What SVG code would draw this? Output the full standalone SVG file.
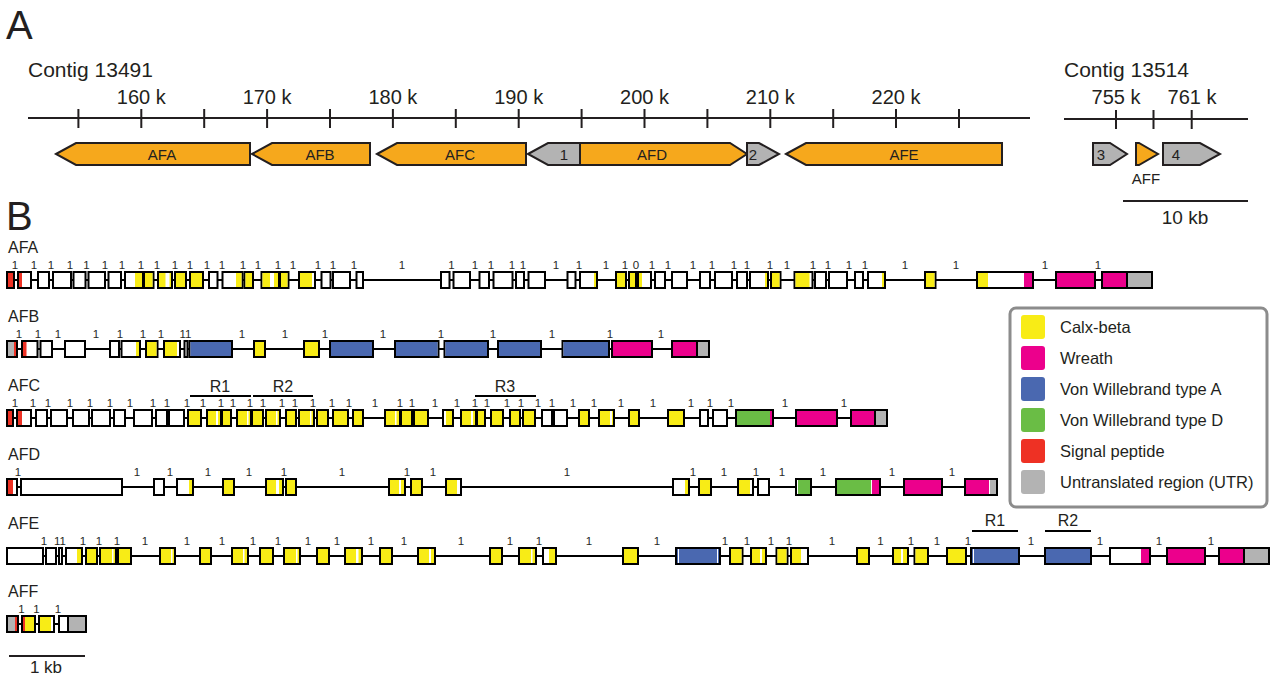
<svg xmlns="http://www.w3.org/2000/svg" width="1272" height="677" viewBox="0 0 1272 677">
<style>
  text{font-family:"Liberation Sans",Arial,sans-serif;fill:#231f20}
  .big{font-size:40px}
  .contig{font-size:21px}
  .tick{font-size:20px;text-anchor:middle}
  .glab{font-size:15px;text-anchor:middle}
  .name{font-size:16px}
  .rlab{font-size:16px;text-anchor:middle}
  .ph{font-size:11.5px;text-anchor:middle}
  .phases{opacity:0.98}
  .leg{font-size:16.5px}
  .axis{stroke:#231f20;stroke-width:2;fill:none}
  .intron{stroke:#000;stroke-width:2}
  .ex{fill:#fff;stroke:#000;stroke-width:2}
  .arr{stroke:#231f20;stroke-width:2;stroke-linejoin:miter}
  .or{fill:#f6a81c}
  .gr{fill:#b3b3b3}
  .y{fill:#f8ec16}
  .m{fill:#ec008c}
  .b{fill:#4a68b0}
  .g{fill:#6abd45}
  .r{fill:#ee3124}
  .u{fill:#b3b3b3}
  .w{fill:#fff}
</style>

<!-- Panel A: genomic overview -->
<g id="panelA">
  <text class="big" x="6" y="39">A</text>
  <text class="contig" x="28" y="77">Contig 13491</text>
  <text class="contig" x="1064" y="77">Contig 13514</text>

  <g id="axis-13491">
    <line class="axis" x1="28" y1="118" x2="1030" y2="118"/>
    <path class="axis" d="M78.4 109V128M141.3 109V128M204.2 109V128M267.1 109V128M330 109V128M392.9 109V128M455.8 109V128M518.7 109V128M581.6 109V128M644.5 109V128M707.4 109V128M770.3 109V128M833.2 109V128M896 109V128M959 109V128"/>
    <text class="tick" x="141.3" y="104">160 k</text>
    <text class="tick" x="267.1" y="104">170 k</text>
    <text class="tick" x="392.9" y="104">180 k</text>
    <text class="tick" x="518.7" y="104">190 k</text>
    <text class="tick" x="644.5" y="104">200 k</text>
    <text class="tick" x="770.3" y="104">210 k</text>
    <text class="tick" x="896" y="104">220 k</text>
  </g>

  <g id="axis-13514">
    <line class="axis" x1="1064" y1="119" x2="1248" y2="119"/>
    <path class="axis" d="M1116 110V129M1153.5 110V129M1191.7 110V129"/>
    <text class="tick" x="1116" y="104">755 k</text>
    <text class="tick" x="1192" y="104">761 k</text>
  </g>

  <g id="loci">
    <g id="locus-AFA"><polygon class="arr or" points="56,154 76,143 250,143 250,165 76,165"/><text class="glab" x="162" y="160">AFA</text></g>
    <g id="locus-AFB"><polygon class="arr or" points="252,154 272,143 370,143 370,165 272,165"/><text class="glab" x="320" y="160">AFB</text></g>
    <g id="locus-AFC"><polygon class="arr or" points="377,154 397,143 526,143 526,165 397,165"/><text class="glab" x="460" y="160">AFC</text></g>
    <g id="locus-1"><polygon class="arr gr" points="528,154 548,143 580,143 580,165 548,165"/><text class="glab" x="564" y="160">1</text></g>
    <g id="locus-AFD"><polygon class="arr or" points="580,143 730,143 747,154 730,165 580,165"/><text class="glab" x="652" y="160">AFD</text></g>
    <g id="locus-2"><polygon class="arr gr" points="747,143 759,143 779,154 759,165 747,165"/><text class="glab" x="753" y="160">2</text></g>
    <g id="locus-AFE"><polygon class="arr or" points="786,154 806,143 1002,143 1002,165 806,165"/><text class="glab" x="904" y="160">AFE</text></g>
    <g id="locus-3"><polygon class="arr gr" points="1093,143 1110,143 1127,154 1110,165 1093,165"/><text class="glab" x="1101" y="160">3</text></g>
    <g id="locus-AFF"><polygon class="arr or" points="1136,143 1139,143 1158,154 1139,165 1136,165"/><text class="glab" x="1146" y="184">AFF</text></g>
    <g id="locus-4"><polygon class="arr gr" points="1163,143 1200,143 1220,154 1200,165 1163,165"/><text class="glab" x="1176" y="160">4</text></g>
  </g>

  <g id="scale-10kb">
    <line class="axis" x1="1123" y1="201" x2="1248" y2="201"/>
    <text class="tick" x="1185" y="224" style="font-size:19px">10 kb</text>
  </g>
</g>

<!-- Panel B: exon structures -->
<text class="big" x="6" y="230">B</text>

<g id="gene-AFA" transform="translate(0,280)">
  <text class="name" x="8" y="-27">AFA</text>
  <line class="intron" x1="7" y1="0" x2="1152" y2="0"/>
  <rect class="ex" x="7" y="-8" width="7" height="16"/><rect class="r" x="8" y="-7" width="5" height="14"/>
  <rect class="ex" x="18" y="-8" width="13" height="16"/><rect class="r" x="19" y="-7" width="3" height="14"/>
  <rect class="ex" x="38" y="-8" width="11" height="16"/>
  <rect class="ex" x="53" y="-8" width="18" height="16"/>
  <rect class="ex" x="73.5" y="-8" width="12" height="16"/>
  <rect class="ex" x="88.5" y="-8" width="16.5" height="16"/>
  <rect class="ex" x="108.5" y="-8" width="12.5" height="16"/>
  <rect class="ex" x="125" y="-8" width="18" height="16"/><rect class="y" x="135" y="-7" width="7" height="14"/>
  <rect class="ex" x="144" y="-8" width="9.5" height="16"/><rect class="y" x="145" y="-7" width="7.5" height="14"/>
  <rect class="ex" x="158" y="-8" width="14" height="16"/><rect class="y" x="159" y="-7" width="12" height="14"/><rect class="w" x="165.5" y="-7" width="4" height="14"/>
  <rect class="ex" x="175" y="-8" width="11" height="16"/><rect class="y" x="176" y="-7" width="9" height="14"/>
  <rect class="ex" x="190" y="-8" width="13" height="16"/><rect class="y" x="191" y="-7" width="11" height="14"/>
  <rect class="ex" x="209" y="-8" width="8.5" height="16"/>
  <rect class="ex" x="222.5" y="-8" width="20" height="16"/><rect class="y" x="236" y="-7" width="5.5" height="14"/>
  <rect class="ex" x="244.5" y="-8" width="8.5" height="16"/><rect class="y" x="245.5" y="-7" width="6.5" height="14"/>
  <rect class="ex" x="261.5" y="-8" width="17.5" height="16"/><rect class="y" x="262.5" y="-7" width="15.5" height="14"/><rect class="w" x="270" y="-7" width="4" height="14"/>
  <rect class="ex" x="280" y="-8" width="8.5" height="16"/><rect class="y" x="281" y="-7" width="6.5" height="14"/>
  <rect class="ex" x="299" y="-8" width="16" height="16"/><rect class="y" x="300" y="-7" width="12" height="14"/>
  <rect class="ex" x="321.5" y="-8" width="9" height="16"/>
  <rect class="ex" x="333" y="-8" width="17" height="16"/>
  <rect class="ex" x="356.5" y="-8" width="6.5" height="16"/>
  <rect class="ex" x="441" y="-8" width="8.5" height="16"/>
  <rect class="ex" x="453.5" y="-8" width="16.5" height="16"/>
  <rect class="ex" x="479.5" y="-8" width="9.5" height="16"/>
  <rect class="ex" x="493.5" y="-8" width="19" height="16"/>
  <rect class="ex" x="516" y="-8" width="8" height="16"/>
  <rect class="ex" x="528.5" y="-8" width="16.5" height="16"/>
  <rect class="ex" x="567.5" y="-8" width="8" height="16"/>
  <rect class="ex" x="580" y="-8" width="17" height="16"/><rect class="y" x="594" y="-7" width="2" height="14"/>
  <rect class="ex" x="616" y="-8" width="10" height="16"/><rect class="y" x="617" y="-7" width="8" height="14"/>
  <rect class="ex" x="629" y="-8" width="7" height="16"/><rect class="y" x="630" y="-7" width="5" height="14"/>
  <rect class="ex" x="638" y="-8" width="13" height="16"/><rect class="y" x="639" y="-7" width="3" height="14"/>
  <rect class="ex" x="655" y="-8" width="10" height="16"/>
  <rect class="ex" x="672" y="-8" width="15" height="16"/>
  <rect class="ex" x="700" y="-8" width="10" height="16"/>
  <rect class="ex" x="715" y="-8" width="17" height="16"/>
  <rect class="ex" x="737" y="-8" width="10" height="16"/>
  <rect class="ex" x="750" y="-8" width="18" height="16"/><rect class="y" x="765" y="-7" width="2" height="14"/>
  <rect class="ex" x="771" y="-8" width="9.5" height="16"/><rect class="y" x="772" y="-7" width="7.5" height="14"/>
  <rect class="ex" x="794.5" y="-8" width="18" height="16"/><rect class="y" x="795.5" y="-7" width="14" height="14"/>
  <rect class="ex" x="815" y="-8" width="11" height="16"/>
  <rect class="ex" x="829" y="-8" width="18" height="16"/>
  <rect class="ex" x="855" y="-8" width="8" height="16"/>
  <rect class="ex" x="868" y="-8" width="17" height="16"/><rect class="y" x="882" y="-7" width="2" height="14"/>
  <rect class="ex" x="925" y="-8" width="10.5" height="16"/><rect class="y" x="926" y="-7" width="8.5" height="14"/>
  <rect class="ex" x="977" y="-8" width="56" height="16"/><rect class="y" x="978" y="-7" width="10" height="14"/><rect class="m" x="1024" y="-7" width="8" height="14"/>
  <rect class="ex" x="1056" y="-8" width="39" height="16"/><rect class="m" x="1057" y="-7" width="37" height="14"/>
  <rect class="ex" x="1102" y="-8" width="25" height="16"/><rect class="m" x="1103" y="-7" width="23" height="14"/>
  <rect class="ex" x="1127" y="-8" width="25" height="16"/><rect class="u" x="1128" y="-7" width="23" height="14"/>
  <g class="phases">
    <text class="ph" x="15" y="-11">1</text><text class="ph" x="34" y="-11">1</text><text class="ph" x="51" y="-11">1</text><text class="ph" x="70" y="-11">1</text><text class="ph" x="86.5" y="-11">1</text><text class="ph" x="105" y="-11">1</text><text class="ph" x="122" y="-11">1</text><text class="ph" x="141" y="-11">1</text><text class="ph" x="157" y="-11">1</text><text class="ph" x="175" y="-11">1</text><text class="ph" x="190" y="-11">1</text><text class="ph" x="207" y="-11">1</text><text class="ph" x="222" y="-11">1</text><text class="ph" x="243" y="-11">1</text><text class="ph" x="258" y="-11">1</text><text class="ph" x="278" y="-11">1</text><text class="ph" x="293" y="-11">1</text><text class="ph" x="318" y="-11">1</text><text class="ph" x="333" y="-11">1</text><text class="ph" x="354" y="-11">1</text><text class="ph" x="402" y="-11">1</text><text class="ph" x="451.5" y="-11">1</text><text class="ph" x="475" y="-11">1</text><text class="ph" x="491" y="-11">1</text><text class="ph" x="512" y="-11">1</text><text class="ph" x="523" y="-11">1</text><text class="ph" x="556" y="-11">1</text><text class="ph" x="579" y="-11">1</text><text class="ph" x="606" y="-11">1</text><text class="ph" x="625" y="-11">1</text><text class="ph" x="636" y="-11">0</text><text class="ph" x="652" y="-11">1</text><text class="ph" x="668" y="-11">1</text><text class="ph" x="693" y="-11">1</text><text class="ph" x="712" y="-11">1</text><text class="ph" x="734" y="-11">1</text><text class="ph" x="747" y="-11">1</text><text class="ph" x="770" y="-11">1</text><text class="ph" x="787" y="-11">1</text><text class="ph" x="813" y="-11">1</text><text class="ph" x="828" y="-11">1</text><text class="ph" x="849" y="-11">1</text><text class="ph" x="865" y="-11">1</text><text class="ph" x="905" y="-11">1</text><text class="ph" x="956" y="-11">1</text><text class="ph" x="1045" y="-11">1</text><text class="ph" x="1098" y="-11">1</text>
  </g>
</g>

<g id="gene-AFB" transform="translate(0,349)">
  <text class="name" x="8" y="-27">AFB</text>
  <line class="intron" x1="7" y1="0" x2="709" y2="0"/>
  <rect class="ex" x="7" y="-8" width="10" height="16"/><rect class="u" x="8" y="-7" width="6" height="14"/><rect class="r" x="14" y="-7" width="2" height="14"/>
  <rect class="ex" x="22" y="-8" width="15.5" height="16"/><rect class="r" x="23" y="-7" width="3.5" height="14"/>
  <rect class="ex" x="40.5" y="-8" width="11.5" height="16"/>
  <rect class="ex" x="65" y="-8" width="20" height="16"/>
  <rect class="ex" x="110" y="-8" width="9" height="16"/>
  <rect class="ex" x="121.5" y="-8" width="18.5" height="16"/><rect class="y" x="136" y="-7" width="3" height="14"/>
  <rect class="ex" x="146" y="-8" width="11.5" height="16"/><rect class="y" x="147" y="-7" width="9.5" height="14"/>
  <rect class="ex" x="164" y="-8" width="16" height="16"/><rect class="y" x="165" y="-7" width="12" height="14"/>
  <rect class="ex" x="184.5" y="-8" width="3" height="16"/>
  <rect class="ex" x="189.5" y="-8" width="42.5" height="16"/><rect class="b" x="190.5" y="-7" width="40.5" height="14"/>
  <rect class="ex" x="254" y="-8" width="11" height="16"/><rect class="y" x="255" y="-7" width="9" height="14"/>
  <rect class="ex" x="304" y="-8" width="15" height="16"/><rect class="y" x="305" y="-7" width="13" height="14"/>
  <rect class="ex" x="330" y="-8" width="43" height="16"/><rect class="b" x="331" y="-7" width="41" height="14"/>
  <rect class="ex" x="395" y="-8" width="43.5" height="16"/><rect class="b" x="396" y="-7" width="41.5" height="14"/>
  <rect class="ex" x="444.5" y="-8" width="43.5" height="16"/><rect class="b" x="445.5" y="-7" width="41.5" height="14"/>
  <rect class="ex" x="498" y="-8" width="43" height="16"/><rect class="b" x="499" y="-7" width="41" height="14"/>
  <rect class="ex" x="562.5" y="-8" width="46.5" height="16"/><rect class="b" x="563.5" y="-7" width="44.5" height="14"/>
  <rect class="ex" x="612" y="-8" width="40" height="16"/><rect class="m" x="613" y="-7" width="38" height="14"/>
  <rect class="ex" x="672" y="-8" width="25" height="16"/><rect class="m" x="673" y="-7" width="23" height="14"/>
  <rect class="ex" x="697" y="-8" width="12" height="16"/><rect class="u" x="698" y="-7" width="10" height="14"/>
  <g class="phases">
    <text class="ph" x="19" y="-11">1</text><text class="ph" x="38" y="-11">1</text><text class="ph" x="58" y="-11">1</text><text class="ph" x="96" y="-11">1</text><text class="ph" x="120" y="-11">1</text><text class="ph" x="143" y="-11">1</text><text class="ph" x="161" y="-11">1</text><text class="ph" x="185.5" y="-11">11</text><text class="ph" x="242" y="-11">1</text><text class="ph" x="285" y="-11">1</text><text class="ph" x="325" y="-11">1</text><text class="ph" x="383" y="-11">1</text><text class="ph" x="441" y="-11">1</text><text class="ph" x="493" y="-11">1</text><text class="ph" x="552" y="-11">1</text><text class="ph" x="610" y="-11">1</text><text class="ph" x="661" y="-11">1</text>
  </g>
</g>

<g id="gene-AFC" transform="translate(0,418)">
  <text class="name" x="8" y="-27">AFC</text>
  <g class="repeats">
    <line class="intron" x1="190" y1="-22" x2="251" y2="-22"/><text class="rlab" x="220" y="-26">R1</text>
    <line class="intron" x1="253" y1="-22" x2="313" y2="-22"/><text class="rlab" x="283" y="-26">R2</text>
    <line class="intron" x1="475" y1="-22" x2="536" y2="-22"/><text class="rlab" x="505" y="-26">R3</text>
  </g>
  <line class="intron" x1="7" y1="0" x2="887" y2="0"/>
  <rect class="ex" x="7" y="-8" width="6" height="16"/><rect class="r" x="8" y="-7" width="4" height="14"/>
  <rect class="ex" x="17" y="-8" width="14" height="16"/><rect class="r" x="18" y="-7" width="4" height="14"/>
  <rect class="ex" x="36" y="-8" width="11" height="16"/>
  <rect class="ex" x="51" y="-8" width="16" height="16"/>
  <rect class="ex" x="73" y="-8" width="16" height="16"/>
  <rect class="ex" x="92" y="-8" width="18" height="16"/>
  <rect class="ex" x="114" y="-8" width="11" height="16"/>
  <rect class="ex" x="134" y="-8" width="18" height="16"/>
  <rect class="ex" x="156" y="-8" width="11" height="16"/>
  <rect class="ex" x="169" y="-8" width="15" height="16"/>
  <rect class="ex" x="188" y="-8" width="13" height="16"/><rect class="y" x="189" y="-7" width="11" height="14"/>
  <rect class="ex" x="207" y="-8" width="14" height="16"/><rect class="y" x="208" y="-7" width="12" height="14"/><rect class="w" x="216" y="-7" width="2" height="14"/>
  <rect class="ex" x="222" y="-8" width="9" height="16"/><rect class="y" x="223" y="-7" width="7" height="14"/>
  <rect class="ex" x="237" y="-8" width="14" height="16"/><rect class="y" x="238" y="-7" width="12" height="14"/><rect class="w" x="247" y="-7" width="1.5" height="14"/>
  <rect class="ex" x="252" y="-8" width="11" height="16"/><rect class="y" x="253" y="-7" width="9" height="14"/>
  <rect class="ex" x="266" y="-8" width="14" height="16"/><rect class="y" x="267" y="-7" width="12" height="14"/><rect class="w" x="276" y="-7" width="1.5" height="14"/>
  <rect class="ex" x="286" y="-8" width="10" height="16"/><rect class="y" x="287" y="-7" width="8" height="14"/>
  <rect class="ex" x="299" y="-8" width="15" height="16"/><rect class="y" x="300" y="-7" width="13" height="14"/><rect class="w" x="310" y="-7" width="1.5" height="14"/>
  <rect class="ex" x="317" y="-8" width="11" height="16"/><rect class="y" x="318" y="-7" width="9" height="14"/>
  <rect class="ex" x="333" y="-8" width="15" height="16"/><rect class="y" x="334" y="-7" width="13" height="14"/>
  <rect class="ex" x="353" y="-8" width="10" height="16"/><rect class="y" x="354" y="-7" width="8" height="14"/>
  <rect class="ex" x="385" y="-8" width="15" height="16"/><rect class="y" x="386" y="-7" width="13" height="14"/><rect class="w" x="395" y="-7" width="1.5" height="14"/>
  <rect class="ex" x="401" y="-8" width="11" height="16"/><rect class="y" x="402" y="-7" width="9" height="14"/>
  <rect class="ex" x="414" y="-8" width="14" height="16"/><rect class="y" x="415" y="-7" width="12" height="14"/>
  <rect class="ex" x="443" y="-8" width="10" height="16"/><rect class="y" x="446" y="-7" width="6" height="14"/>
  <rect class="ex" x="461" y="-8" width="15" height="16"/><rect class="y" x="462" y="-7" width="13" height="14"/><rect class="w" x="471" y="-7" width="2" height="14"/>
  <rect class="ex" x="477" y="-8" width="8" height="16"/><rect class="y" x="478" y="-7" width="6" height="14"/>
  <rect class="ex" x="491" y="-8" width="12" height="16"/><rect class="y" x="492" y="-7" width="10" height="14"/>
  <rect class="ex" x="510" y="-8" width="10" height="16"/><rect class="y" x="511" y="-7" width="8" height="14"/>
  <rect class="ex" x="523" y="-8" width="12" height="16"/><rect class="y" x="524" y="-7" width="10" height="14"/>
  <rect class="ex" x="542" y="-8" width="10" height="16"/>
  <rect class="ex" x="554" y="-8" width="13" height="16"/>
  <rect class="ex" x="579" y="-8" width="10" height="16"/><rect class="y" x="580" y="-7" width="8" height="14"/>
  <rect class="ex" x="599" y="-8" width="15" height="16"/><rect class="y" x="600" y="-7" width="13" height="14"/><rect class="w" x="610" y="-7" width="2" height="14"/>
  <rect class="ex" x="629" y="-8" width="10" height="16"/><rect class="y" x="630" y="-7" width="8" height="14"/>
  <rect class="ex" x="668" y="-8" width="16" height="16"/><rect class="y" x="669" y="-7" width="14" height="14"/>
  <rect class="ex" x="700" y="-8" width="8" height="16"/>
  <rect class="ex" x="713" y="-8" width="14" height="16"/>
  <rect class="ex" x="736" y="-8" width="37" height="16"/><rect class="g" x="737" y="-7" width="33" height="14"/><rect class="m" x="770" y="-7" width="2" height="14"/>
  <rect class="ex" x="796" y="-8" width="41" height="16"/><rect class="m" x="797" y="-7" width="39" height="14"/>
  <rect class="ex" x="851" y="-8" width="24" height="16"/><rect class="m" x="852" y="-7" width="22" height="14"/>
  <rect class="ex" x="875" y="-8" width="12" height="16"/><rect class="u" x="876" y="-7" width="10" height="14"/>
  <g class="phases">
    <text class="ph" x="15" y="-11">1</text><text class="ph" x="33" y="-11">1</text><text class="ph" x="48" y="-11">1</text><text class="ph" x="70" y="-11">1</text><text class="ph" x="90" y="-11">1</text><text class="ph" x="110" y="-11">1</text><text class="ph" x="130" y="-11">1</text><text class="ph" x="153" y="-11">1</text><text class="ph" x="167" y="-11">1</text><text class="ph" x="187" y="-11">1</text><text class="ph" x="203" y="-11">1</text><text class="ph" x="221" y="-11">1</text><text class="ph" x="233" y="-11">1</text><text class="ph" x="250" y="-11">1</text><text class="ph" x="263" y="-11">1</text><text class="ph" x="282" y="-11">1</text><text class="ph" x="295" y="-11">1</text><text class="ph" x="313" y="-11">1</text><text class="ph" x="332" y="-11">1</text><text class="ph" x="349" y="-11">1</text><text class="ph" x="375" y="-11">1</text><text class="ph" x="400" y="-11">1</text><text class="ph" x="412" y="-11">1</text><text class="ph" x="435" y="-11">1</text><text class="ph" x="457" y="-11">1</text><text class="ph" x="475" y="-11">1</text><text class="ph" x="487" y="-11">1</text><text class="ph" x="507" y="-11">1</text><text class="ph" x="521" y="-11">1</text><text class="ph" x="538" y="-11">1</text><text class="ph" x="552" y="-11">1</text><text class="ph" x="573" y="-11">1</text><text class="ph" x="594" y="-11">1</text><text class="ph" x="621" y="-11">1</text><text class="ph" x="653" y="-11">1</text><text class="ph" x="691" y="-11">1</text><text class="ph" x="710" y="-11">1</text><text class="ph" x="731" y="-11">1</text><text class="ph" x="785" y="-11">1</text><text class="ph" x="844" y="-11">1</text>
  </g>
</g>

<g id="gene-AFD" transform="translate(0,487)">
  <text class="name" x="8" y="-27">AFD</text>
  <line class="intron" x1="7" y1="0" x2="997" y2="0"/>
  <rect class="ex" x="7" y="-8" width="10" height="16"/><rect class="r" x="8" y="-7" width="5" height="14"/>
  <rect class="ex" x="21" y="-8" width="101" height="16"/>
  <rect class="ex" x="154" y="-8" width="10" height="16"/>
  <rect class="ex" x="177" y="-8" width="16" height="16"/><rect class="y" x="189" y="-7" width="3" height="14"/>
  <rect class="ex" x="223" y="-8" width="11" height="16"/><rect class="y" x="224" y="-7" width="9" height="14"/>
  <rect class="ex" x="266" y="-8" width="17" height="16"/><rect class="y" x="267" y="-7" width="15" height="14"/><rect class="w" x="276" y="-7" width="3" height="14"/>
  <rect class="ex" x="286" y="-8" width="10" height="16"/><rect class="y" x="287" y="-7" width="8" height="14"/>
  <rect class="ex" x="389" y="-8" width="16" height="16"/><rect class="y" x="390" y="-7" width="14" height="14"/><rect class="w" x="399" y="-7" width="2" height="14"/>
  <rect class="ex" x="411" y="-8" width="11" height="16"/><rect class="y" x="412" y="-7" width="9" height="14"/>
  <rect class="ex" x="446" y="-8" width="15" height="16"/><rect class="y" x="447" y="-7" width="10" height="14"/>
  <rect class="ex" x="673" y="-8" width="16" height="16"/><rect class="y" x="685" y="-7" width="3" height="14"/>
  <rect class="ex" x="699" y="-8" width="12" height="16"/><rect class="y" x="700" y="-7" width="10" height="14"/>
  <rect class="ex" x="738" y="-8" width="15" height="16"/><rect class="y" x="739" y="-7" width="11" height="14"/>
  <rect class="ex" x="758" y="-8" width="11" height="16"/>
  <rect class="ex" x="796" y="-8" width="15" height="16"/><rect class="g" x="798" y="-7" width="12" height="14"/>
  <rect class="ex" x="836" y="-8" width="44" height="16"/><rect class="g" x="837" y="-7" width="34" height="14"/><rect class="m" x="872" y="-7" width="7" height="14"/>
  <rect class="ex" x="904" y="-8" width="38" height="16"/><rect class="m" x="905" y="-7" width="36" height="14"/>
  <rect class="ex" x="965" y="-8" width="32" height="16"/><rect class="m" x="966" y="-7" width="23" height="14"/><rect class="u" x="990" y="-7" width="6" height="14"/>
  <g class="phases">
    <text class="ph" x="18" y="-11">1</text><text class="ph" x="137" y="-11">1</text><text class="ph" x="170" y="-11">1</text><text class="ph" x="208" y="-11">1</text><text class="ph" x="249" y="-11">1</text><text class="ph" x="284" y="-11">1</text><text class="ph" x="342" y="-11">1</text><text class="ph" x="407" y="-11">1</text><text class="ph" x="433" y="-11">1</text><text class="ph" x="567" y="-11">1</text><text class="ph" x="693" y="-11">1</text><text class="ph" x="724" y="-11">1</text><text class="ph" x="756" y="-11">1</text><text class="ph" x="782" y="-11">1</text><text class="ph" x="823" y="-11">1</text><text class="ph" x="892" y="-11">1</text><text class="ph" x="952" y="-11">1</text>
  </g>
</g>

<g id="gene-AFE" transform="translate(0,556)">
  <text class="name" x="8" y="-27">AFE</text>
  <g class="repeats">
    <line class="intron" x1="972" y1="-25" x2="1018" y2="-25"/><text class="rlab" x="995" y="-30">R1</text>
    <line class="intron" x1="1045" y1="-25" x2="1091" y2="-25"/><text class="rlab" x="1068" y="-30">R2</text>
  </g>
  <line class="intron" x1="7" y1="0" x2="1269" y2="0"/>
  <rect class="ex" x="7" y="-8" width="36" height="16"/>
  <rect class="ex" x="46" y="-8" width="10" height="16"/>
  <rect class="ex" x="59" y="-8" width="3" height="16"/>
  <rect class="ex" x="66" y="-8" width="16" height="16"/><rect class="y" x="77" y="-7" width="4" height="14"/>
  <rect class="ex" x="86" y="-8" width="11" height="16"/><rect class="y" x="87" y="-7" width="9" height="14"/>
  <rect class="ex" x="100" y="-8" width="16" height="16"/><rect class="y" x="101" y="-7" width="14" height="14"/><rect class="w" x="112" y="-7" width="1.5" height="14"/>
  <rect class="ex" x="118" y="-8" width="13" height="16"/><rect class="y" x="119" y="-7" width="11" height="14"/>
  <rect class="ex" x="160" y="-8" width="15" height="16"/><rect class="y" x="161" y="-7" width="13" height="14"/><rect class="w" x="171" y="-7" width="1.5" height="14"/>
  <rect class="ex" x="200" y="-8" width="11" height="16"/><rect class="y" x="201" y="-7" width="9" height="14"/>
  <rect class="ex" x="232" y="-8" width="16" height="16"/><rect class="y" x="233" y="-7" width="14" height="14"/><rect class="w" x="243" y="-7" width="1.5" height="14"/>
  <rect class="ex" x="260" y="-8" width="13" height="16"/><rect class="y" x="261" y="-7" width="11" height="14"/>
  <rect class="ex" x="284" y="-8" width="16" height="16"/><rect class="y" x="285" y="-7" width="14" height="14"/><rect class="w" x="296" y="-7" width="1.5" height="14"/>
  <rect class="ex" x="317" y="-8" width="12" height="16"/><rect class="y" x="318" y="-7" width="10" height="14"/>
  <rect class="ex" x="345" y="-8" width="17" height="16"/><rect class="y" x="346" y="-7" width="15" height="14"/><rect class="w" x="356" y="-7" width="2.5" height="14"/>
  <rect class="ex" x="380" y="-8" width="12" height="16"/><rect class="y" x="381" y="-7" width="10" height="14"/>
  <rect class="ex" x="418" y="-8" width="17" height="16"/><rect class="y" x="419" y="-7" width="15" height="14"/><rect class="w" x="429" y="-7" width="2" height="14"/>
  <rect class="ex" x="490" y="-8" width="12" height="16"/><rect class="y" x="491" y="-7" width="10" height="14"/>
  <rect class="ex" x="519" y="-8" width="17" height="16"/><rect class="y" x="520" y="-7" width="15" height="14"/><rect class="w" x="531" y="-7" width="1.5" height="14"/>
  <rect class="ex" x="543" y="-8" width="13" height="16"/><rect class="y" x="549" y="-7" width="6" height="14"/>
  <rect class="ex" x="623" y="-8" width="15" height="16"/><rect class="y" x="624" y="-7" width="13" height="14"/>
  <rect class="ex" x="676" y="-8" width="44" height="16"/><rect class="b" x="677" y="-7" width="42" height="14"/><rect class="w" x="678" y="-7" width="1" height="14"/><rect class="w" x="717" y="-7" width="1" height="14"/>
  <rect class="ex" x="730" y="-8" width="12.5" height="16"/><rect class="y" x="731" y="-7" width="10.5" height="14"/>
  <rect class="ex" x="751" y="-8" width="15" height="16"/><rect class="y" x="752" y="-7" width="13" height="14"/><rect class="w" x="760" y="-7" width="2" height="14"/>
  <rect class="ex" x="776.5" y="-8" width="11" height="16"/><rect class="y" x="777.5" y="-7" width="9" height="14"/>
  <rect class="ex" x="791" y="-8" width="17" height="16"/><rect class="y" x="792" y="-7" width="9" height="14"/>
  <rect class="ex" x="857" y="-8" width="12" height="16"/><rect class="y" x="858" y="-7" width="10" height="14"/>
  <rect class="ex" x="893" y="-8" width="15" height="16"/><rect class="y" x="894" y="-7" width="13" height="14"/><rect class="w" x="901" y="-7" width="2" height="14"/>
  <rect class="ex" x="914.5" y="-8" width="13.5" height="16"/><rect class="y" x="915.5" y="-7" width="11.5" height="14"/>
  <rect class="ex" x="947" y="-8" width="19" height="16"/><rect class="y" x="948" y="-7" width="17" height="14"/>
  <rect class="ex" x="971" y="-8" width="48" height="16"/><rect class="b" x="972" y="-7" width="46" height="14"/><rect class="w" x="973" y="-7" width="1" height="14"/>
  <rect class="ex" x="1045" y="-8" width="46" height="16"/><rect class="b" x="1046" y="-7" width="44" height="14"/>
  <rect class="ex" x="1110" y="-8" width="40" height="16"/><rect class="m" x="1141" y="-7" width="8" height="14"/>
  <rect class="ex" x="1167" y="-8" width="38" height="16"/><rect class="m" x="1168" y="-7" width="36" height="14"/>
  <rect class="ex" x="1219" y="-8" width="25" height="16"/><rect class="m" x="1220" y="-7" width="23" height="14"/>
  <rect class="ex" x="1244" y="-8" width="25" height="16"/><rect class="u" x="1245" y="-7" width="23" height="14"/>
  <g class="phases">
    <text class="ph" x="44" y="-11">1</text><text class="ph" x="60" y="-11">11</text><text class="ph" x="83" y="-11">1</text><text class="ph" x="99" y="-11">1</text><text class="ph" x="117" y="-11">1</text><text class="ph" x="145" y="-11">1</text><text class="ph" x="187" y="-11">1</text><text class="ph" x="222" y="-11">1</text><text class="ph" x="253" y="-11">1</text><text class="ph" x="278" y="-11">1</text><text class="ph" x="308" y="-11">1</text><text class="ph" x="337" y="-11">1</text><text class="ph" x="371" y="-11">1</text><text class="ph" x="404" y="-11">1</text><text class="ph" x="461" y="-11">1</text><text class="ph" x="510" y="-11">1</text><text class="ph" x="539" y="-11">1</text><text class="ph" x="589" y="-11">1</text><text class="ph" x="657" y="-11">1</text><text class="ph" x="725" y="-11">1</text><text class="ph" x="747" y="-11">1</text><text class="ph" x="771" y="-11">1</text><text class="ph" x="789" y="-11">1</text><text class="ph" x="832" y="-11">1</text><text class="ph" x="880.5" y="-11">1</text><text class="ph" x="911" y="-11">1</text><text class="ph" x="937" y="-11">1</text><text class="ph" x="968" y="-11">1</text><text class="ph" x="1031" y="-11">1</text><text class="ph" x="1100" y="-11">1</text><text class="ph" x="1159" y="-11">1</text><text class="ph" x="1211" y="-11">1</text>
  </g>
</g>

<g id="gene-AFF" transform="translate(0,624)">
  <text class="name" x="8" y="-27">AFF</text>
  <line class="intron" x1="7" y1="0" x2="86" y2="0"/>
  <rect class="ex" x="7" y="-8" width="11" height="16"/><rect class="u" x="8" y="-7" width="7" height="14"/><rect class="r" x="15" y="-7" width="2" height="14"/>
  <rect class="ex" x="22" y="-8" width="13" height="16"/><rect class="y" x="23" y="-7" width="11" height="14"/><rect class="r" x="23" y="-7" width="2" height="14"/>
  <rect class="ex" x="39" y="-8" width="15" height="16"/><rect class="y" x="40" y="-7" width="11" height="14"/>
  <rect class="ex" x="59" y="-8" width="9" height="16"/>
  <rect class="ex" x="68" y="-8" width="18" height="16"/><rect class="u" x="69" y="-7" width="16" height="14"/>
  <g class="phases">
    <text class="ph" x="21.5" y="-11">1</text><text class="ph" x="36.5" y="-11">1</text><text class="ph" x="58" y="-11">1</text>
  </g>
</g>

<g id="scale-1kb">
  <line class="axis" x1="9" y1="656" x2="85" y2="656"/>
  <text class="tick" x="46" y="673" style="font-size:17px">1 kb</text>
</g>

<g id="legend">
  <rect x="1010" y="308" width="257" height="199" rx="6" fill="#fff" stroke="#8c8c8c" stroke-width="3"/>
  <rect class="y" x="1021" y="315" width="24" height="24" rx="3"/><text class="leg" x="1060" y="333">Calx-beta</text>
  <rect class="m" x="1021" y="346" width="24" height="24" rx="3"/><text class="leg" x="1060" y="364">Wreath</text>
  <rect class="b" x="1021" y="377" width="24" height="24" rx="3"/><text class="leg" x="1060" y="395">Von Willebrand type A</text>
  <rect class="g" x="1021" y="408" width="24" height="24" rx="3"/><text class="leg" x="1060" y="426">Von Willebrand type D</text>
  <rect class="r" x="1021" y="439" width="24" height="24" rx="3"/><text class="leg" x="1060" y="457">Signal peptide</text>
  <rect class="u" x="1021" y="470" width="24" height="24" rx="3"/><text class="leg" x="1060" y="488">Untranslated region (UTR)</text>
</g>
</svg>
